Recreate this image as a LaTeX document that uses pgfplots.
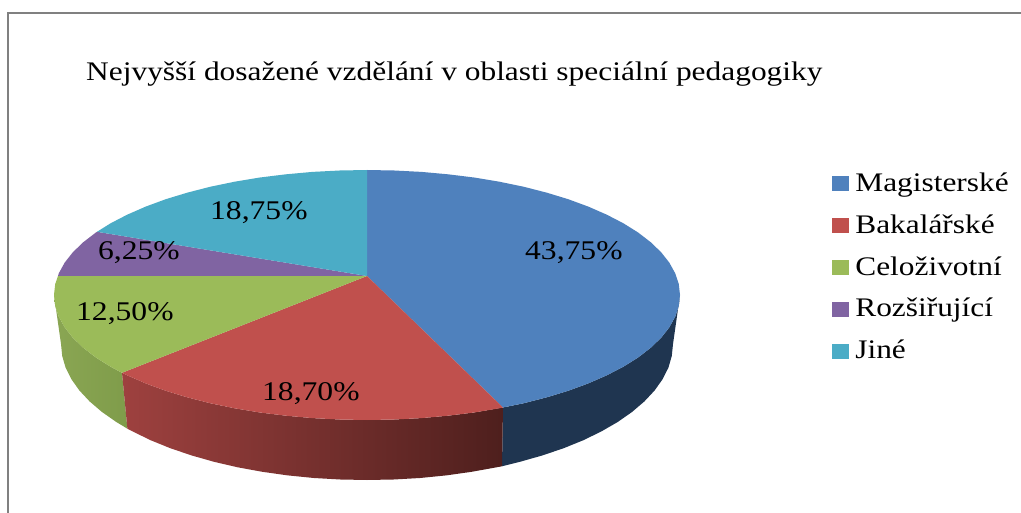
\documentclass[border=0pt]{standalone}
\usepackage{fontspec}
\setmainfont[FakeStretch=1.17]{Liberation Serif}
\usepackage{pgfplots}
\pgfplotsset{compat=1.18}
\definecolor{cB}{HTML}{4F81BD}
\definecolor{cR}{HTML}{C0504D}
\definecolor{cG}{HTML}{9BBB59}
\definecolor{cP}{HTML}{8064A2}
\definecolor{cT}{HTML}{4BACC6}
\definecolor{sB}{HTML}{1F3550}
\definecolor{sGL}{HTML}{8AA653}
\definecolor{sGR}{HTML}{7F9C4A}
\definecolor{sRL}{HTML}{9E413F}
\definecolor{sRR}{HTML}{4E1F1D}
\begin{document}
\begin{tikzpicture}
\begin{axis}[
  width=1021pt,height=513pt,scale only axis,
  xmin=0,xmax=1021,ymin=0,ymax=513,y dir=reverse,
  hide axis,
  legend cell align=left,
  legend style={at={(axis cs:832,172)},anchor=north west,draw=none,fill=none,inner sep=0pt,outer sep=0pt,
    row sep=0pt,column sep=7pt,
    font=\fontsize{26.8}{30}\selectfont,
    nodes={text height=19pt,text depth=23pt,inner sep=0pt,outer sep=0pt}},
  legend image code/.code={\fill[#1] (0pt,2.5pt) rectangle (16pt,16.5pt);},
]
% page background and frame
\addplot[draw=none,fill=white,mark=none,forget plot] coordinates {(0,0)(1021,0)(1021,513)(0,513)};
\addplot[draw=black!50,line width=2pt,mark=none,forget plot] coordinates {(8,513)(8,13)(1021,13)};
\pgfplotsset{every axis plot/.append style={forget plot}}
% side walls
\addplot[draw=none,fill=sB,mark=none] coordinates {(680,295)(678.8,305.9)(675.2,316.7)(669.3,327.4)(661.1,337.8)(650.7,347.8)(638.1,357.5)(623.4,366.7)(606.8,375.3)(588.3,383.4)(568.2,390.8)(546.5,397.4)(523.5,403.3)(503,407.5)(502,466.3)(520,461.8)(542.5,455.4)(563.7,448.2)(583.4,440.2)(601.4,431.4)(617.7,422)(632,412)(644.3,401.5)(654.6,390.5)(662.6,379.2)(668.4,367.7)(671.8,355.9)(673,344)};
\addplot[draw=none,left color=sGL,right color=sGR,mark=none] coordinates {(122,372.8)(110.6,366.7)(95.9,357.5)(83.3,347.8)(72.9,337.8)(64.7,327.4)(58.8,316.7)(55.2,305.9)(54,295)(61,344)(62.2,355.9)(65.6,367.7)(71.4,379.2)(79.4,390.5)(89.7,401.5)(102,412)(116.3,422)(127.4,428.7)};
\addplot[draw=none,left color=sRL,right color=sRR,mark=none] coordinates {(122,372.8)(127.2,375.3)(145.7,383.4)(165.8,390.8)(187.5,397.4)(210.5,403.3)(234.7,408.3)(260,412.5)(286,415.7)(312.6,418.1)(339.7,419.5)(367,420)(394.3,419.5)(421.4,418.1)(448,415.7)(474,412.5)(503,407.5)(502,466.3)(471.7,471.8)(446.2,475.4)(420.1,478)(393.7,479.5)(367,480)(340.3,479.5)(313.9,478)(287.8,475.4)(262.3,471.8)(237.7,467.3)(214,461.8)(191.5,455.4)(170.3,448.2)(150.6,440.2)(132.6,431.4)(127.4,428.7)};
% top faces
\addplot[draw=none,fill=cB,mark=none] coordinates {(367,276)(367,170)(394.3,170.5)(421.4,171.9)(448,174.3)(474,177.5)(499.3,181.7)(523.5,186.7)(546.5,192.6)(568.2,199.2)(588.3,206.6)(606.8,214.7)(623.4,223.3)(638.1,232.5)(650.7,242.2)(661.1,252.2)(669.3,262.6)(675.2,273.3)(678.8,284.1)(680,295)(678.8,305.9)(675.2,316.7)(669.3,327.4)(661.1,337.8)(650.7,347.8)(638.1,357.5)(623.4,366.7)(606.8,375.3)(588.3,383.4)(568.2,390.8)(546.5,397.4)(523.5,403.3)(503,407.5)};
\addplot[draw=none,fill=cR,mark=none] coordinates {(367,276)(503,407.5)(499.3,408.3)(474,412.5)(448,415.7)(421.4,418.1)(394.3,419.5)(367,420)(339.7,419.5)(312.6,418.1)(286,415.7)(260,412.5)(234.7,408.3)(210.5,403.3)(187.5,397.4)(165.8,390.8)(145.7,383.4)(127.2,375.3)(122,372.8)};
\addplot[draw=none,fill=cG,mark=none] coordinates {(367,276)(122,372.8)(110.6,366.7)(95.9,357.5)(83.3,347.8)(72.9,337.8)(64.7,327.4)(58.8,316.7)(55.2,305.9)(54,295)(55.2,284.1)(58,276)};
\addplot[draw=none,fill=cP,mark=none] coordinates {(367,276)(58,276)(58.8,273.3)(64.7,262.6)(72.9,252.2)(83.3,242.2)(95.9,232.5)(97,231.8)};
\addplot[draw=none,fill=cT,mark=none] coordinates {(367,276)(97,231.8)(110.6,223.3)(127.2,214.7)(145.7,206.6)(165.8,199.2)(187.5,192.6)(210.5,186.7)(234.7,181.7)(260,177.5)(286,174.3)(312.6,171.9)(339.7,170.5)(367,170)};
% legend
\addlegendimage{cB}\addlegendentry{Magisterské}
\addlegendimage{cR}\addlegendentry{Bakalářské}
\addlegendimage{cG}\addlegendentry{Celoživotní}
\addlegendimage{cP}\addlegendentry{Rozšiřující}
\addlegendimage{cT}\addlegendentry{Jiné}
% text
\node[anchor=base west,inner sep=0pt,font=\fontsize{26.85}{30}\selectfont] at (axis cs:86,81) {Nejvyšší dosažené vzdělání v oblasti speciální pedagogiky};
\node[anchor=base west,inner sep=0pt,font=\fontsize{27}{30}\selectfont] at (axis cs:525,260) {43,75\%};
\node[anchor=base west,inner sep=0pt,font=\fontsize{27}{30}\selectfont] at (axis cs:262,400) {18,70\%};
\node[anchor=base west,inner sep=0pt,font=\fontsize{27}{30}\selectfont] at (axis cs:76,321) {12,50\%};
\node[anchor=base west,inner sep=0pt,font=\fontsize{27}{30}\selectfont] at (axis cs:98,260) {6,25\%};
\node[anchor=base west,inner sep=0pt,font=\fontsize{27}{30}\selectfont] at (axis cs:210,220) {18,75\%};
\end{axis}
\end{tikzpicture}
\end{document}
